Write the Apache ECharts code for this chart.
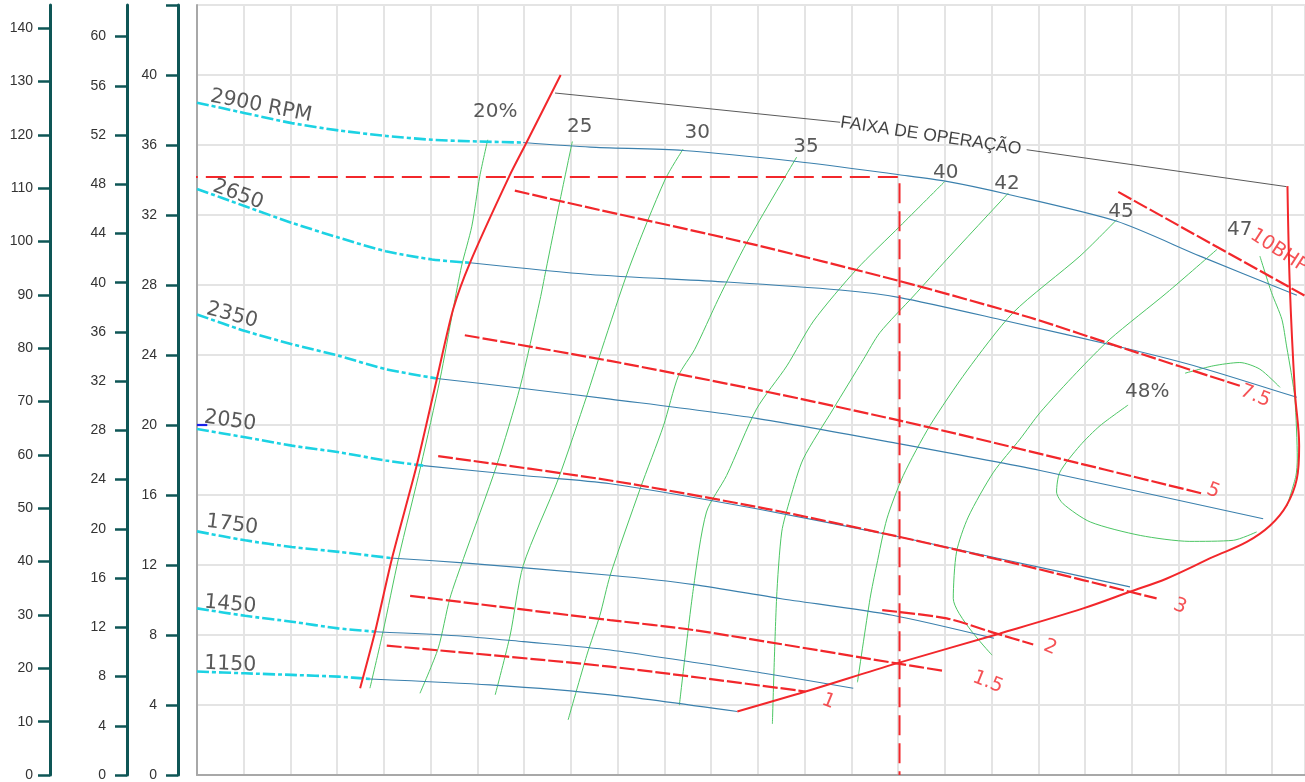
<!DOCTYPE html>
<html><head><meta charset="utf-8">
<script src="https://cdn.jsdelivr.net/npm/echarts@6/dist/echarts.min.js"></script>
<style>html,body{margin:0;padding:0;background:#fff}#c{width:1305px;height:782px}</style>
</head><body><div id="c"></div>
<script>
// ---------- DATA (x: flow in grid units, y: head in m) ----------
const headMax = 44;
const flowMax = 23.705;
const mToFt = 3.28084;
const mToPsi = 1.42197;
const meterTicks = [0,4,8,12,16,20,24,28,32,36,40,44];
const meterLabels = [0,4,8,12,16,20,24,28,32,36,40];
const psiTicks = [0,4,8,12,16,20,24,28,32,36,40,44,48,52,56,60];
const ftTicks = [0,10,20,30,40,50,60,70,80,90,100,110,120,130,140];

const rpm2900Dash = [[0,38.42],[1.03,37.82],[2.03,37.25],[3.04,36.83],[4.04,36.52],[5.03,36.30],[6.03,36.20],[6.98,36.14]];
const rpm2900Solid = [[6.98,36.14],[8.41,35.88],[10.40,35.69],[12.83,35.06],[15.02,34.30],[16.04,33.92],[17.32,33.20],[19.68,31.64],[21.46,29.65],[23.53,27.41]];
const rpm2650Dash = [[0,33.49],[1.03,32.50],[2.03,31.55],[3.04,30.70],[4.04,29.93],[5.03,29.46],[5.84,29.27]];
const rpm2650Solid = [[5.84,29.27],[8.41,28.60],[11.33,28.17],[13.76,27.71],[15.04,27.28],[17.32,25.94],[19.89,24.37],[21.46,23.29],[23.53,21.58]];
const rpm2350Dash = [[0,26.32],[1.03,25.37],[2.03,24.62],[3.04,23.95],[4.04,23.19],[5.13,22.66]];
const rpm2350Solid = [[5.13,22.66],[6.98,22.09],[8.84,21.48],[11.97,20.38],[15.04,18.92],[18.04,17.40],[22.81,14.64]];
const rpm2050Dash = [[0,19.77],[1.03,19.30],[2.03,18.82],[3.04,18.44],[4.04,17.97],[4.84,17.68]];
const rpm2050Solid = [[4.84,17.68],[6.98,17.11],[8.84,16.64],[11.97,15.21],[15.04,13.60],[17.18,12.36],[19.96,10.75]];
const rpm1750Dash = [[0,13.92],[1.03,13.41],[2.03,13.03],[3.04,12.75],[4.13,12.40]];
const rpm1750Solid = [[4.13,12.40],[5.70,12.12],[8.84,11.41],[10.63,10.88],[12.47,10.09],[14.88,9.13],[17.05,7.81]];
const rpm1450Dash = [[0,9.52],[1.03,9.10],[2.03,8.76],[3.02,8.38],[3.81,8.19]];
const rpm1450Solid = [[3.81,8.19],[5.56,7.96],[6.98,7.62],[8.84,7.14],[12.13,5.81],[14.04,4.96]];
const rpm1150Dash = [[0,5.91],[1.03,5.81],[2.03,5.72],[3.02,5.62],[3.70,5.49]];
const rpm1150Solid = [[3.70,5.49],[6.27,5.15],[8.84,4.58],[11.56,3.63]];
const rpm2050Mark = [[0,20],[0.22,20]];

const minFlowLine = [[3.49,4.96],[3.81,8.19],[4.17,12.36],[4.70,17.68],[5.13,22.62],[5.48,26.61],[5.84,29.27],[6.68,34.21],[7.05,36.14],[7.78,40.00]];
const maxFlowLine = [[23.33,33.65],[23.38,27.94],[23.49,21.86],[23.58,18.82],[23.53,16.92],[23.31,15.40],[22.96,14.26],[22.46,13.32],[21.74,12.46],[20.75,11.23],[19.96,10.47],[18.96,9.52],[17.18,8.09],[14.97,6.38],[13.02,4.77],[11.56,3.63]];
const rangeLineA = [[7.66,38.97],[9.12,38.58],[13.76,37.30]];
const rangeLineB = [[17.75,35.73],[20.18,34.81],[23.31,33.62]];
const dutyPoint = [[-0.41,34.17],[15.03,34.17],[15.03,0]];

const eff20 = [[6.22,36.30],[6.05,34.21],[5.88,31.36],[5.66,29.08],[5.48,26.61],[5.20,22.62],[4.79,17.68],[4.31,12.36],[3.98,8.19],[3.70,4.96]];
const eff25 = [[8.03,36.20],[7.77,32.88],[7.46,28.79],[7.34,27.18],[6.91,22.15],[6.41,17.68],[5.70,12.36],[5.41,10.09],[5.16,7.24],[4.77,4.67]];
const eff30 = [[10.40,35.77],[10.01,34.00],[9.26,29.08],[8.66,24.33],[8.34,21.67],[7.73,16.92],[6.98,11.98],[6.70,7.99],[6.38,4.58]];
const eff35 = [[12.83,35.31],[11.76,30.41],[11.15,27.18],[10.65,24.33],[10.30,22.81],[9.98,19.96],[9.48,16.35],[8.84,11.41],[8.62,9.13],[8.34,6.85],[7.94,3.15]];
const eff40 = [[16.00,33.92],[15.04,31.36],[14.11,28.89],[13.19,25.94],[12.62,23.38],[11.97,20.91],[11.33,17.11],[10.90,15.03],[10.62,10.66],[10.32,3.99]];
const eff42 = [[17.36,33.26],[16.04,29.46],[15.33,27.37],[14.61,25.28],[14.26,23.76],[13.61,20.91],[12.97,18.06],[12.69,15.78],[12.51,13.89],[12.40,10.09],[12.31,2.92]];
const eff45 = [[19.68,31.74],[18.89,29.65],[17.46,26.42],[16.47,23.09],[15.68,19.96],[15.11,17.11],[14.76,14.64],[14.54,11.98],[14.40,10.09],[14.13,5.30]];
const eff47 = [[21.82,30.03],[20.75,27.56],[19.53,24.90],[18.82,23.00],[18.04,20.72],[17.61,19.20],[17.04,17.30],[16.50,14.74],[16.25,12.75],[16.18,10.09],[17.01,6.85]];
const eff47Right = [[22.74,29.65],[22.99,27.56],[23.21,26.04],[23.31,24.52],[23.42,22.81],[23.49,21.48],[23.54,18.06],[23.51,17.09],[23.32,15.38]];
const eff48Lower = [[19.92,21.14],[19.32,19.96],[18.89,18.82],[18.46,17.30],[18.39,16.17],[18.53,15.50],[19.11,14.46],[20.18,13.69],[21.24,13.35],[22.17,13.41],[22.67,13.89]];
const eff48Upper = [[21.14,22.96],[21.74,23.38],[22.31,23.57],[22.74,23.19],[23.17,22.15]];

const bhp10 = [[19.71,33.32],[24.0,26.94]];
const bhp75 = [[6.80,33.39],[8.19,32.54],[11.76,30.41],[15.04,28.22],[17.82,26.14],[19.89,24.33],[22.31,22.24]];
const bhp5 = [[5.73,25.13],[8.84,23.66],[12.19,21.90],[15.04,20.25],[17.61,18.63],[21.53,16.07]];
const bhp3 = [[5.16,18.22],[8.84,16.83],[12.19,15.21],[15.04,13.60],[17.61,12.02],[20.53,10.09]];
const bhp2 = [[14.66,9.42],[16.04,8.95],[17.09,8.09],[17.89,7.46]];
const bhp15 = [[4.56,10.24],[8.84,8.85],[10.63,8.28],[14.97,6.38],[15.99,5.94]];
const bhp1 = [[4.06,7.39],[8.84,6.19],[13.02,4.77]];

const speedLabels = ['2900 RPM','2650','2350','2050','1750','1450','1150'];
const speedLabelAt = [[1.37,38.23],[0.88,33.16],[0.75,26.27],[0.71,20.23],[0.75,14.30],[0.71,9.74],[0.71,6.32]];
const effLabels = ['20%','25','30','35','40','42','45','47','48%'];
const effLabelAt = [[6.38,37.89],[8.19,37.04],[10.70,36.70],[13.03,35.90],[16.02,34.42],[17.33,33.79],[19.77,32.19],[22.31,31.17],[20.33,21.88]];
const bhpLabels = ['7.5','5','3','2','1.5','1'];
const bhpLabelAt = [[22.64,21.65],[21.74,16.24],[21.03,9.63],[18.25,7.29],[16.92,5.30],[13.51,4.20]];
const bhp10Label = '10BHP';
const bhp10LabelAt = [22.57,30.94];
const rangeLabel = 'FAIXA DE OPERAÇÃO';
const rangeLabelAt = [15.70,36.52];

// ---------- STYLES ----------
const TEAL = '#0e5656', CYAN = '#1cd2e3', BLUE = '#3b80ad', GREEN = '#4cc664', RED = '#f2272b';
const speedRot = [-11,-20,-15,-8,-7,-5,-2];
const FONT = 'Liberation Sans, Arial, sans-serif';
const FONT2 = 'DejaVu Sans, Verdana, sans-serif';

function line(data, color, width, type, extra) {
  return Object.assign({
    type: 'line', data: data, showSymbol: false, symbol: 'none', silent: true,
    smooth: 0.25, lineStyle: { color: color, width: width, type: type || 'solid' }, z: 3
  }, extra || {});
}
function textSeries(names, at, color, size, rots, align, family) {
  return {
    type: 'scatter', symbolSize: 1, silent: true, z: 10, clip: false,
    itemStyle: { color: 'rgba(0,0,0,0)' },
    data: names.map((n, i) => ({
      value: at[i], name: n,
      label: { show: true, position: 'inside', formatter: n, rotate: Array.isArray(rots) ? rots[i] : rots,
        color: color, fontSize: size, fontFamily: family || FONT2, align: align || 'center', verticalAlign: 'middle' }
    }))
  };
}

const cyanDash = [12,3,4,3];
const redDash = [15,3];
const series = [];
[rpm2900Dash, rpm2650Dash, rpm2350Dash, rpm2050Dash, rpm1750Dash, rpm1450Dash, rpm1150Dash]
  .forEach(d => series.push(line(d, CYAN, 2.6, cyanDash)));
[rpm2900Solid, rpm2650Solid, rpm2350Solid, rpm2050Solid, rpm1750Solid, rpm1450Solid, rpm1150Solid]
  .forEach(d => series.push(line(d, BLUE, 1.1, 'solid')));
series.push(line(rpm2050Mark, '#1a22e8', 2.2, 'solid', { smooth: false }));
[eff20, eff25, eff30, eff35, eff40, eff42, eff45, eff47, eff47Right, eff48Lower, eff48Upper]
  .forEach(d => series.push(line(d, GREEN, 1, 'solid', { z: 2 })));
series.push(line(rangeLineA, '#5a5a5a', 1, 'solid', { smooth: false }));
series.push(line(rangeLineB, '#5a5a5a', 1, 'solid', { smooth: false }));
series.push(line(minFlowLine, RED, 2, 'solid', { z: 5 }));
series.push(line(maxFlowLine, RED, 2, 'solid', { z: 5, smooth: 0.35 }));
[bhp10, bhp75, bhp5, bhp3, bhp2, bhp15, bhp1]
  .forEach(d => series.push(line(d, RED, 2.2, redDash, { z: 5 })));
series.push(line(dutyPoint, RED, 2, [20,8], { smooth: false, clip: false, z: 6 }));

series.push(textSeries(speedLabels, speedLabelAt, '#2f2f2f', 20.5, speedRot));
series.push(textSeries(effLabels, effLabelAt, '#2f2f2f', 20, 0));
series.push(textSeries(bhpLabels, bhpLabelAt, RED, 19.5, -22));
series.push(textSeries([bhp10Label], [bhp10LabelAt], RED, 19.5, -33, 'left'));
series.push(textSeries([rangeLabel], [rangeLabelAt], '#111', 17.5, -8.5, 'center', FONT));

function sideAxis(offset, max, ticks, labels, margin) {
  return {
    type: 'value', position: 'left', offset: offset, min: 0, max: max,
    axisLine: { show: true, onZero: false, lineStyle: { color: TEAL, width: 3 } },
    axisTick: { show: true, length: 12, customValues: ticks, lineStyle: { color: TEAL, width: 2.5 } },
    axisLabel: { show: true, customValues: labels, margin: margin, color: '#333', fontSize: 14, fontFamily: FONT },
    splitLine: { show: false }
  };
}

const option = {
  animation: false,
  backgroundColor: '#fff',
  grid: { left: 197, top: 5, right: 0, height: 772, containLabel: false },
  xAxis: {
    type: 'value', min: 0, max: flowMax, interval: 1,
    axisLine: { show: true, onZero: false, lineStyle: { color: '#a8a8a8', width: 2 } },
    axisTick: { show: false }, axisLabel: { show: false },
    splitLine: { show: true, lineStyle: { color: '#e4e4e4', width: 2 } }
  },
  yAxis: [
    {
      type: 'value', position: 'left', offset: 0, min: 0, max: headMax, interval: 4,
      axisLine: { show: true, onZero: false, lineStyle: { color: '#a8a8a8', width: 2 } },
      axisTick: { show: false }, axisLabel: { show: false },
      splitLine: { show: true, lineStyle: { color: '#e4e4e4', width: 2 } }
    },
    sideAxis(19, headMax, meterTicks, meterLabels, 21),
    sideAxis(70, headMax * mToPsi, psiTicks, psiTicks, 21),
    sideAxis(147, headMax * mToFt, ftTicks, ftTicks, 17)
  ],
  series: series
};
const chart = echarts.init(document.getElementById('c'));
chart.setOption(option);
</script></body></html>
